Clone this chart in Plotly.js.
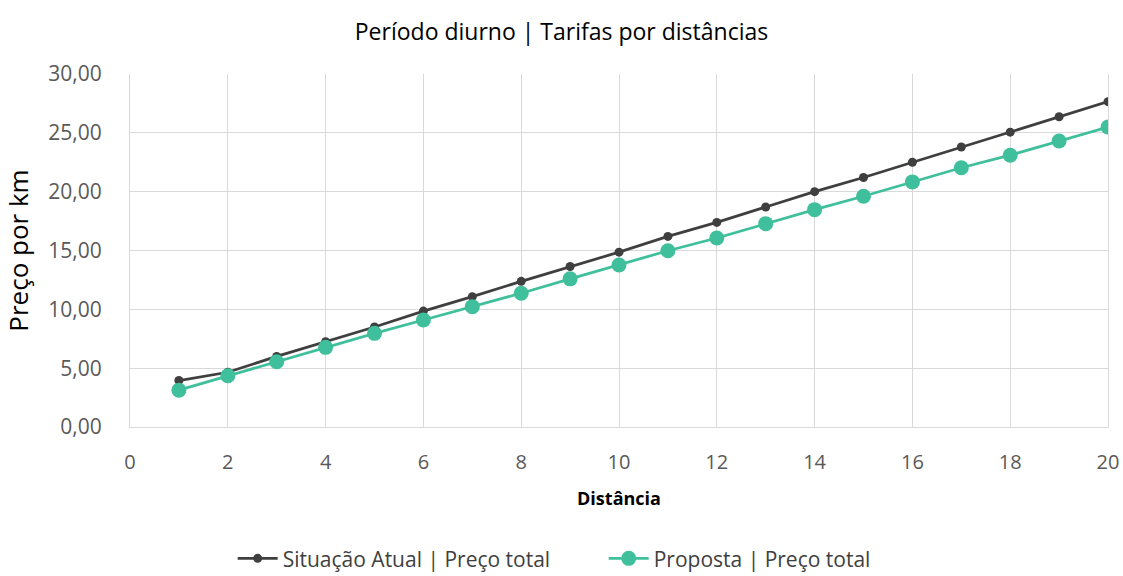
<!DOCTYPE html>
<html>
<head>
<meta charset="utf-8">
<script src="https://cdn.plot.ly/plotly-3.0.1.min.js"></script>
<style>html,body{margin:0;padding:0;background:#fff;}#chart{width:1123px;height:576px;}</style>
</head>
<body>
<div id="chart"></div>
<script>
const distancias = [1,2,3,4,5,6,7,8,9,10,11,12,13,14,15,16,17,18,19,20];
const situacaoAtual = [3.95,4.65,6.0,7.25,8.5,9.85,11.08,12.38,13.64,14.86,16.2,17.39,18.7,20.0,21.2,22.5,23.8,25.06,26.37,27.65];
const proposta = [3.13,4.35,5.54,6.77,7.96,9.09,10.23,11.37,12.59,13.77,14.98,16.06,17.28,18.47,19.61,20.83,22.03,23.1,24.3,25.49];
const nomeSerie1 = 'Situação Atual | Preço total';
const nomeSerie2 = 'Proposta | Preço total';

const font = "'Open Sans', 'Noto Sans', sans-serif";
const data = [
  {x: distancias, y: situacaoAtual, name: nomeSerie1, type: 'scatter', mode: 'lines+markers',
   line: {color: '#3f3f3f', width: 2.75}, marker: {color: '#3f3f3f', size: 9}},
  {x: distancias, y: proposta, name: nomeSerie2, type: 'scatter', mode: 'lines+markers',
   line: {color: '#3fbf9b', width: 2.75}, marker: {color: '#3fbf9b', size: 15}}
];
const layout = {
  width: 1123, height: 576,
  margin: {l: 130, r: 15, t: 74, b: 149, autoexpand: false},
  paper_bgcolor: '#fff', plot_bgcolor: '#fff',
  separators: ',.',
  font: {family: font, color: '#595959', size: 20},
  title: {text: 'Período diurno | Tarifas por distâncias', x: 0.5, xanchor: 'center', y: 0.945, yanchor: 'middle',
          font: {family: font, size: 23, color: '#000'}},
  xaxis: {range: [0, 20], dtick: 2, tick0: 0, showgrid: true, gridcolor: '#d9d9d9', gridwidth: 1,
          zeroline: false, showline: true, linecolor: '#d9d9d9', ticks: '', ticklen: 0,
          tickfont: {size: 20, color: '#595959'}, ticklabelstandoff: 17,
          title: {text: '<b>Distância</b>', font: {size: 18, color: '#000'}, standoff: 18}},
  yaxis: {range: [0, 30], dtick: 5, tick0: 0, tickformat: '.2f', showgrid: true, gridcolor: '#d9d9d9', gridwidth: 1,
          zeroline: false, showline: true, linecolor: '#d9d9d9', mirror: true, ticks: '', ticklen: 0,
          tickfont: {size: 21, color: '#595959'}, ticklabelstandoff: 23,
          title: {text: 'Preço por km', font: {size: 26, color: '#000'}, standoff: 16}},
  legend: {orientation: 'h', x: 0.105, xanchor: 'left', yref: 'container', y: 0.03, yanchor: 'middle',
           font: {size: 21, color: '#404040'}, itemwidth: 40, entrywidth: 316, traceorder: 'normal'},
  showlegend: true
};
Plotly.newPlot('chart', data, layout, {displayModeBar: false, staticPlot: true});
</script>
</body>
</html>
